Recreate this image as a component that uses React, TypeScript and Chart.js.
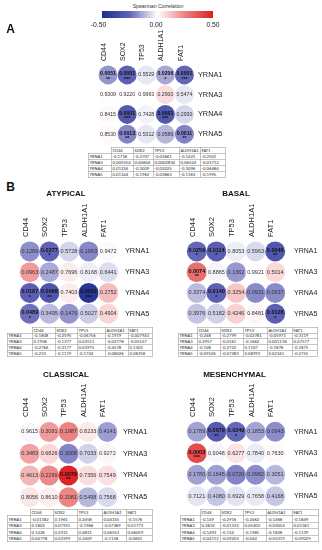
import React, { useEffect, useRef } from "react";
import { Chart, registerables } from "chart.js";

Chart.register(...registerables);

// ---------------- DATA ----------------
const genes = ["CD44", "SOX2", "TP53", "ALDH1A1", "FAT1"];
const yrnas = ["YRNA1", "YRNA3", "YRNA4", "YRNA5"];

const allRho = [
  [-0.1716, -0.2707, -0.03661, -0.1421, -0.2501],
  [0.005354, 0.00604, 0.0002834, 0.06524, -0.03712],
  [0.01234, -0.3009, -0.02025, -0.3096, -0.06484],
  [0.01144, -0.1962, -0.03863, -0.1163, -0.1995],
];
const allP = [
  [0.0051, 0.0001, 0.5529, 0.0206, 0.0001],
  [0.9309, 0.922, 0.9963, 0.29, 0.5474],
  [0.8415, 0.0001, 0.7428, 0.0001, 0.293],
  [0.853, 0.0013, 0.5312, 0.0586, 0.0011],
];

const atypicalRho = [
  [-0.1808, -0.2595, -0.06756, -0.1919, -0.007943],
  [0.1958, -0.1377, 0.03511, -0.02778, -0.05537],
  [-0.2764, -0.3177, 0.03975, -0.4578, 0.1303],
  [-0.233, -0.1119, -0.1724, -0.08026, 0.08258],
];
const atypicalP = [
  [0.1286, 0.0277, 0.5728, 0.1063, 0.9472],
  [0.0963, 0.2487, 0.7696, 0.8168, 0.6441],
  [0.0187, 0.0068, 0.7403, 0.0001, 0.2752],
  [0.0489, 0.3495, 0.1476, 0.5027, 0.4904],
];

const basalRho = [
  [-0.248, -0.2799, -0.02781, -0.05973, -0.3119],
  [0.2957, -0.0161, -0.1662, 0.001118, 0.07577],
  [-0.108, -0.2722, 0.1107, -0.1878, -0.1875],
  [-0.09526, -0.07283, 0.08993, 0.02161, -0.2755],
];
const basalP = [
  [0.0256, 0.0114, 0.8053, 0.5963, 0.0046],
  [0.0074, 0.8865, 0.1362, 0.9921, 0.5014],
  [0.3374, 0.014, 0.3254, 0.0931, 0.0937],
  [0.3976, 0.5182, 0.4246, 0.8481, 0.0128],
];

const classicalRho = [
  [-0.01182, 0.1961, 0.2458, 0.04335, -0.1576],
  [0.1803, 0.07931, -0.1966, -0.07389, 0.01773],
  [0.1426, 0.2315, 0.4831, 0.06552, 0.06059],
  [0.04778, 0.03399, 0.2409, -0.1158, -0.0601],
];
const classicalP = [
  [0.9615, 0.3081, 0.1987, 0.8233, 0.4141],
  [0.3483, 0.6826, 0.3068, 0.7033, 0.9272],
  [0.4613, 0.2269, 0.0079, 0.7356, 0.7549],
  [0.8056, 0.861, 0.2081, 0.5498, 0.7568],
];

const mesenchymalRho = [
  [-0.149, -0.2916, -0.2462, -0.1468, -0.1849],
  [0.3832, -0.01333, 0.05402, -0.03054, 0.01361],
  [-0.1493, -0.154, -0.1985, -0.1828, -0.1139],
  [-0.04112, -0.09203, -0.044, -0.03319, -0.09029],
];
const mesenchymalP = [
  [0.1789, 0.0079, 0.0249, 0.1853, 0.0943],
  [0.0003, 0.9048, 0.6277, 0.784, 0.763],
  [0.178, 0.1645, 0.072, 0.0982, 0.3051],
  [0.7121, 0.408, 0.6929, 0.7658, 0.4168],
];

const colorbarTicks = ["-0.50", "0.00", "0.50"];

// ---------------- COLORS ----------------
const stops: [number, number[]][] = [
  [-0.5, [28, 45, 140]],
  [-0.25, [98, 100, 182]],
  [0, [255, 255, 255]],
  [0.25, [236, 128, 128]],
  [0.5, [222, 28, 32]],
];
function colorFor(v: number): string {
  const x = Math.max(-0.5, Math.min(0.5, v));
  for (let i = 0; i < stops.length - 1; i++) {
    const [a, ca] = stops[i];
    const [b, cb] = stops[i + 1];
    if (x >= a && x <= b) {
      const t = (x - a) / (b - a);
      const c = ca.map((k, j) => Math.round(k + (cb[j] - k) * t));
      return `rgb(${c[0]},${c[1]},${c[2]})`;
    }
  }
  return "white";
}
const gradientCss =
  "linear-gradient(to right," +
  stops.map(([v, c], i) => `rgb(${c[0]},${c[1]},${c[2]}) ${(i / (stops.length - 1)) * 100}%`).join(",") +
  ")";

function starsFor(p: number) {
  if (p < 0.001) return "***";
  if (p < 0.01) return "**";
  if (p < 0.05) return "*";
  return "";
}

const FONT = "'Liberation Sans', Arial, Helvetica, sans-serif";

// ---------------- PLUGIN ----------------
const cellTextPlugin = {
  id: "cellText",
  afterDatasetsDraw(chart: any, _args: any, opts: any) {
    const ctx = chart.ctx;
    const meta = chart.getDatasetMeta(0);
    const pts = chart.data.datasets[0].data as any[];
    const fs = opts.fontSize || 5.5;
    meta.data.forEach((el: any, i: number) => {
      const d = pts[i];
      const st = starsFor(d.p);
      ctx.save();
      ctx.textAlign = "center";
      ctx.textBaseline = "middle";
      ctx.fillStyle = st ? "#111" : "#333";
      ctx.font = `${st ? "bold " : ""}${fs}px ${FONT}`;
      ctx.fillText(d.p.toFixed(4), el.x, el.y - (st ? 1 : 0));
      if (st) {
        ctx.font = `bold ${fs}px ${FONT}`;
        ctx.fillText(st, el.x, el.y + 4.5);
      }
      ctx.restore();
    });
  },
};

// ---------------- PANEL ----------------
type PanelCfg = {
  rho: number[][];
  p: number[][];
  left: number;
  top: number;
  w: number;
  h: number;
  r: number;
  labelFont: number;
  rowFont: number;
  cellFont: number;
  yPad: number;
};

const PAD_L = 6;
const PAD_B = 16;
const X_AXIS_H = 46;
const Y_AXIS_W = 36;

function Panel({ cfg }: { cfg: PanelCfg }) {
  const ref = useRef<HTMLCanvasElement>(null);
  useEffect(() => {
    const data: any[] = [];
    cfg.rho.forEach((row, ri) =>
      row.forEach((v, ci) => data.push({ x: ci, y: ri, r: cfg.r, rho: v, p: cfg.p[ri][ci] }))
    );
    const chart = new Chart(ref.current as HTMLCanvasElement, {
      type: "bubble",
      data: {
        datasets: [
          {
            data,
            backgroundColor: data.map((d) => colorFor(d.rho)),
            borderWidth: 0,
            hoverBorderWidth: 0,
            clip: false as any,
          } as any,
        ],
      },
      options: {
        responsive: false,
        animation: false,
        devicePixelRatio: 1,
        events: [],
        layout: { padding: { left: PAD_L, right: 0, top: 0, bottom: PAD_B } },
        plugins: {
          legend: { display: false },
          tooltip: { enabled: false },
          cellText: { fontSize: cfg.cellFont },
        } as any,
        scales: {
          x: {
            type: "linear",
            position: "top",
            min: -0.5,
            max: 4.5,
            grid: { display: false, drawTicks: false },
            border: { display: false },
            afterBuildTicks: (s: any) => {
              s.ticks = genes.map((_, i) => ({ value: i }));
            },
            afterFit: (s: any) => {
              s.height = X_AXIS_H;
            },
            ticks: {
              autoSkip: false,
              minRotation: 90,
              maxRotation: 90,
              padding: 4,
              labelOffset: cfg.labelFont * 0.65,
              color: "#222",
              font: { size: cfg.labelFont, family: FONT },
              callback: (v: any) => genes[v as number],
            },
          },
          y: {
            type: "linear",
            position: "right",
            reverse: true,
            min: -0.5,
            max: 3.5,
            grid: { display: false, drawTicks: false },
            border: { display: false },
            afterBuildTicks: (s: any) => {
              s.ticks = yrnas.map((_, i) => ({ value: i }));
            },
            afterFit: (s: any) => {
              s.width = Y_AXIS_W;
            },
            ticks: {
              autoSkip: false,
              padding: cfg.yPad,
              color: "#222",
              font: { size: cfg.rowFont, family: FONT },
              callback: (v: any) => yrnas[v as number],
            },
          },
        },
      } as any,
      plugins: [cellTextPlugin],
    });
    return () => chart.destroy();
  }, []);
  const W = PAD_L + cfg.w + Y_AXIS_W;
  const H = X_AXIS_H + cfg.h + PAD_B;
  return (
    <canvas
      ref={ref}
      width={W}
      height={H}
      style={{ position: "absolute", left: cfg.left - PAD_L, top: cfg.top - X_AXIS_H, width: W, height: H }}
    />
  );
}

// ---------------- TABLE ----------------
function ValueTable({
  left,
  top,
  cols,
  rowH,
  values,
}: {
  left: number;
  top: number;
  cols: number[];
  rowH: number;
  values: number[][];
}) {
  const S = 2;
  const cell = (w: number, border = true): React.CSSProperties => ({
    width: w * S,
    minWidth: w * S,
    maxWidth: w * S,
    height: rowH * S,
    padding: "0 0 0 2px",
    border: border ? "1px solid #8a8a8a" : "none",
    boxSizing: "border-box",
    whiteSpace: "nowrap",
    overflow: "hidden",
    lineHeight: `${rowH * S - 2}px`,
  });
  return (
    <div
      style={{
        position: "absolute",
        left,
        top,
        transform: `scale(${1 / S})`,
        transformOrigin: "0 0",
        fontFamily: "Carlito, 'Liberation Sans Narrow', " + FONT,
        fontSize: 9.5,
        color: "#333",
      }}
    >
      <table style={{ borderCollapse: "collapse", tableLayout: "fixed", background: "white" }}>
        <tbody>
          <tr>
            <td style={cell(cols[0], false)}></td>
            {genes.map((g, i) => (
              <td key={g} style={cell(cols[i + 1])}>
                {g}
              </td>
            ))}
          </tr>
          {values.map((row, ri) => (
            <tr key={ri}>
              <td style={cell(cols[0])}>{yrnas[ri]}</td>
              {row.map((v, ci) => (
                <td key={ci} style={cell(cols[ci + 1])}>
                  {String(v)}
                </td>
              ))}
            </tr>
          ))}
        </tbody>
      </table>
    </div>
  );
}

// ---------------- LAYOUT ----------------
const panelA: PanelCfg = { rho: allRho, p: allP, left: 95, top: 65, w: 99, h: 79, r: 9.5, labelFont: 7, rowFont: 7.3, cellFont: 5.2, yPad: 4 };
const panelAty: PanelCfg = { rho: atypicalRho, p: atypicalP, left: 16, top: 241, w: 102, h: 83, r: 10, labelFont: 7.5, rowFont: 7.3, cellFont: 5.5, yPad: 7 };
const panelBas: PanelCfg = { rho: basalRho, p: basalP, left: 183, top: 241, w: 102, h: 83, r: 10, labelFont: 7.5, rowFont: 7, cellFont: 5.5, yPad: 9 };
const panelCla: PanelCfg = { rho: classicalRho, p: classicalP, left: 16, top: 421, w: 101, h: 87, r: 10, labelFont: 7.5, rowFont: 7.3, cellFont: 5.5, yPad: 6 };
const panelMes: PanelCfg = { rho: mesenchymalRho, p: mesenchymalP, left: 183, top: 421, w: 102, h: 86, r: 10, labelFont: 7.5, rowFont: 7, cellFont: 5.5, yPad: 9 };

const abs = (l: number, t: number, extra: React.CSSProperties = {}): React.CSSProperties => ({
  position: "absolute",
  left: l,
  top: t,
  fontFamily: FONT,
  color: "#111",
  whiteSpace: "nowrap",
  ...extra,
});

function Centered({ x, y, size, bold, text, color }: { x: number; y: number; size: number; bold?: boolean; text: string; color?: string }) {
  return (
    <div
      style={abs(x, y, {
        transform: "translate(-50%, -50%)",
        fontSize: size,
        fontWeight: bold ? "bold" : "normal",
        color: color || "#111",
        lineHeight: 1,
      })}
    >
      {text}
    </div>
  );
}

export default function App() {
  return (
    <div style={{ position: "absolute", left: 0, top: 0, width: 322, height: 550, background: "white", overflow: "hidden" }}>
      <Panel cfg={panelA} />
      <Panel cfg={panelAty} />
      <Panel cfg={panelBas} />
      <Panel cfg={panelCla} />
      <Panel cfg={panelMes} />

      {/* colour bar */}
      <Centered x={158} y={7} size={5.2} text="Spearman Correlation" color="#333" />
      <div style={{ position: "absolute", left: 102, top: 11, width: 111, height: 7, background: gradientCss }} />
      <Centered x={98.5} y={25} size={6.8} text={colorbarTicks[0]} color="#222" />
      <Centered x={156} y={25} size={6.8} text={colorbarTicks[1]} color="#222" />
      <Centered x={213} y={25} size={6.8} text={colorbarTicks[2]} color="#222" />

      <Centered x={10.5} y={29} size={12} bold text="A" />
      <Centered x={10.5} y={187} size={12} bold text="B" />

      <Centered x={66} y={194} size={8} bold text="ATYPICAL" />
      <Centered x={236} y={194} size={8} bold text="BASAL" />
      <Centered x={66} y={374.5} size={8} bold text="CLASSICAL" />
      <Centered x={234.5} y={374.5} size={8} bold text="MESENCHYMAL" />

      <ValueTable left={88} top={147} cols={[23, 22, 20, 26, 21, 25]} rowH={6} values={allRho} />
      <ValueTable left={7} top={327} cols={[25, 23, 22, 28, 23, 24]} rowH={5.8} values={atypicalRho} />
      <ValueTable left={178} top={327} cols={[19, 23, 23, 24, 25, 25]} rowH={5.8} values={basalRho} />
      <ValueTable left={7} top={509} cols={[23, 23, 24, 25, 24, 26]} rowH={6.5} values={classicalRho} />
      <ValueTable left={180} top={509} cols={[20, 20, 23, 23, 26, 26]} rowH={6.5} values={mesenchymalRho} />
    </div>
  );
}
